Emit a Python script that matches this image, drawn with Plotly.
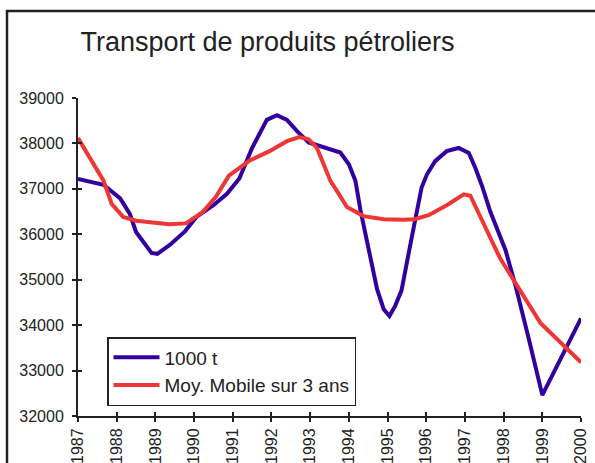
import plotly.graph_objects as go

title_text = "Transport de produits pétroliers"
name_t = "1000 t"
name_ma = "Moy. Mobile sur 3 ans"

t_x = [1987.00, 1987.66, 1988.09, 1988.34, 1988.50, 1988.90, 1989.05, 1989.38, 1989.77,
       1990.07, 1990.50, 1990.85, 1991.17, 1991.50, 1991.88, 1992.14, 1992.40, 1992.66,
       1992.96, 1993.35, 1993.78, 1994.00, 1994.17, 1994.30, 1994.43, 1994.56, 1994.73,
       1994.90, 1995.05, 1995.20, 1995.36, 1995.55, 1995.71, 1995.88, 1996.02, 1996.23,
       1996.53, 1996.84, 1997.10, 1997.27, 1997.44, 1997.66, 1998.05, 1998.31, 1998.65,
       1999.00, 2000.00]
t_y = [37220, 37090, 36790, 36450, 36050, 35590, 35570, 35770, 36070,
       36390, 36640, 36890, 37230, 37900, 38520, 38620, 38520, 38270,
       38020, 37910, 37800, 37540, 37180, 36530, 36020, 35510, 34790,
       34350, 34200, 34430, 34760, 35600, 36300, 37030, 37320, 37610,
       37830, 37900, 37790, 37460, 37070, 36490, 35650, 34860, 33700,
       32460, 34150]

ma_x = [1987.00, 1987.66, 1987.87, 1988.17, 1988.50, 1988.93, 1989.36, 1989.79, 1990.22,
        1990.56, 1990.90, 1991.43, 1991.95, 1992.40, 1992.72, 1992.96, 1993.17, 1993.35,
        1993.52, 1993.74, 1993.95, 1994.38, 1994.90, 1995.40, 1995.70, 1996.06, 1996.53,
        1996.97, 1997.14, 1997.91, 1998.95, 2000.00]
ma_y = [38120, 37180, 36670, 36380, 36300, 36270, 36220, 36240, 36490,
        36820, 37290, 37620, 37830, 38050, 38140, 38090, 37910, 37540,
        37180, 36890, 36600, 36400, 36330, 36320, 36330, 36420, 36640,
        36880, 36850, 35470, 34050, 33180]

year_ticks = list(range(1987, 2001))
y_ticks = [32000, 33000, 34000, 35000, 36000, 37000, 38000, 39000]

BLUE = "#3300a0"
RED = "#f03535"
AX = "#222222"
FONT = "Liberation Sans, Arial, sans-serif"

fig = go.Figure()
fig.add_trace(go.Scatter(x=t_x, y=t_y, mode="lines", name=name_t,
                         line=dict(color=BLUE, width=4)))
fig.add_trace(go.Scatter(x=ma_x, y=ma_y, mode="lines", name=name_ma,
                         line=dict(color=RED, width=4)))
# invisible trace to activate overlay axes (inside part of cross ticks)
fig.add_trace(go.Scatter(x=[year_ticks[0]], y=[y_ticks[0]], xaxis="x2", yaxis="y2",
                         mode="markers", marker=dict(opacity=0), showlegend=False,
                         hoverinfo="skip"))

W, H = 595, 463
L, R, T, B = 78, 14, 98, 47
PW, PH = W - L - R, H - T - B

fig.update_layout(
    width=W, height=H,
    margin=dict(l=L, r=R, t=T, b=B, autoexpand=False),
    paper_bgcolor="white", plot_bgcolor="white",
    font=dict(family=FONT, color="#222222", size=16),
    title=dict(text=title_text, x=267.5 / W, xanchor="center", y=1 - 42 / H,
               yanchor="middle", font=dict(size=27, family=FONT, color="#222222")),
    showlegend=True,
    legend=dict(x=(107 - L) / PW, y=(H - B - 406) / PH,
                xanchor="left", yanchor="bottom",
                bordercolor="#222222", borderwidth=1.5, bgcolor="white",
                font=dict(size=19, family=FONT, color="#222222"),
                tracegroupgap=0, itemwidth=46),
    xaxis=dict(range=[1987, 2000], tickmode="array", tickvals=year_ticks,
               ticktext=[str(v) for v in year_ticks], tickangle=-90,
               showgrid=False, zeroline=False, showline=True, linecolor=AX, linewidth=2,
               ticks="outside", ticklen=4, tickwidth=1.5, tickcolor=AX,
               tickfont=dict(size=16, family=FONT, color="#222222")),
    yaxis=dict(range=[32000, 39000], tickmode="array", tickvals=y_ticks,
               ticktext=[str(v) for v in y_ticks],
               showgrid=False, zeroline=False, showline=True, linecolor=AX, linewidth=2,
               ticks="outside", ticklen=4, tickwidth=1.5, tickcolor=AX,
               ticklabelstandoff=5,
               tickfont=dict(size=16, family=FONT, color="#222222")),
    xaxis2=dict(range=[1987, 2000], overlaying="x", tickmode="array", tickvals=year_ticks,
                showticklabels=False, showgrid=False, zeroline=False, showline=False,
                ticks="inside", ticklen=4, tickwidth=1.5, tickcolor=AX, side="bottom"),
    yaxis2=dict(range=[32000, 39000], overlaying="y", tickmode="array", tickvals=y_ticks,
                showticklabels=False, showgrid=False, zeroline=False, showline=False,
                ticks="inside", ticklen=4, tickwidth=1.5, tickcolor=AX, side="left"),
    shapes=[dict(type="rect", xref="paper", yref="paper",
                 x0=(7 - L) / PW, x1=(W + 20 - L) / PW,
                 y0=(H - B - (H + 20)) / PH, y1=(H - B - 11) / PH,
                 line=dict(color="#222222", width=2.5), fillcolor="rgba(0,0,0,0)",
                 layer="below")],
)

fig.write_html("out.html", config={"displayModeBar": False},
               post_script="document.body.style.margin='0px';")
